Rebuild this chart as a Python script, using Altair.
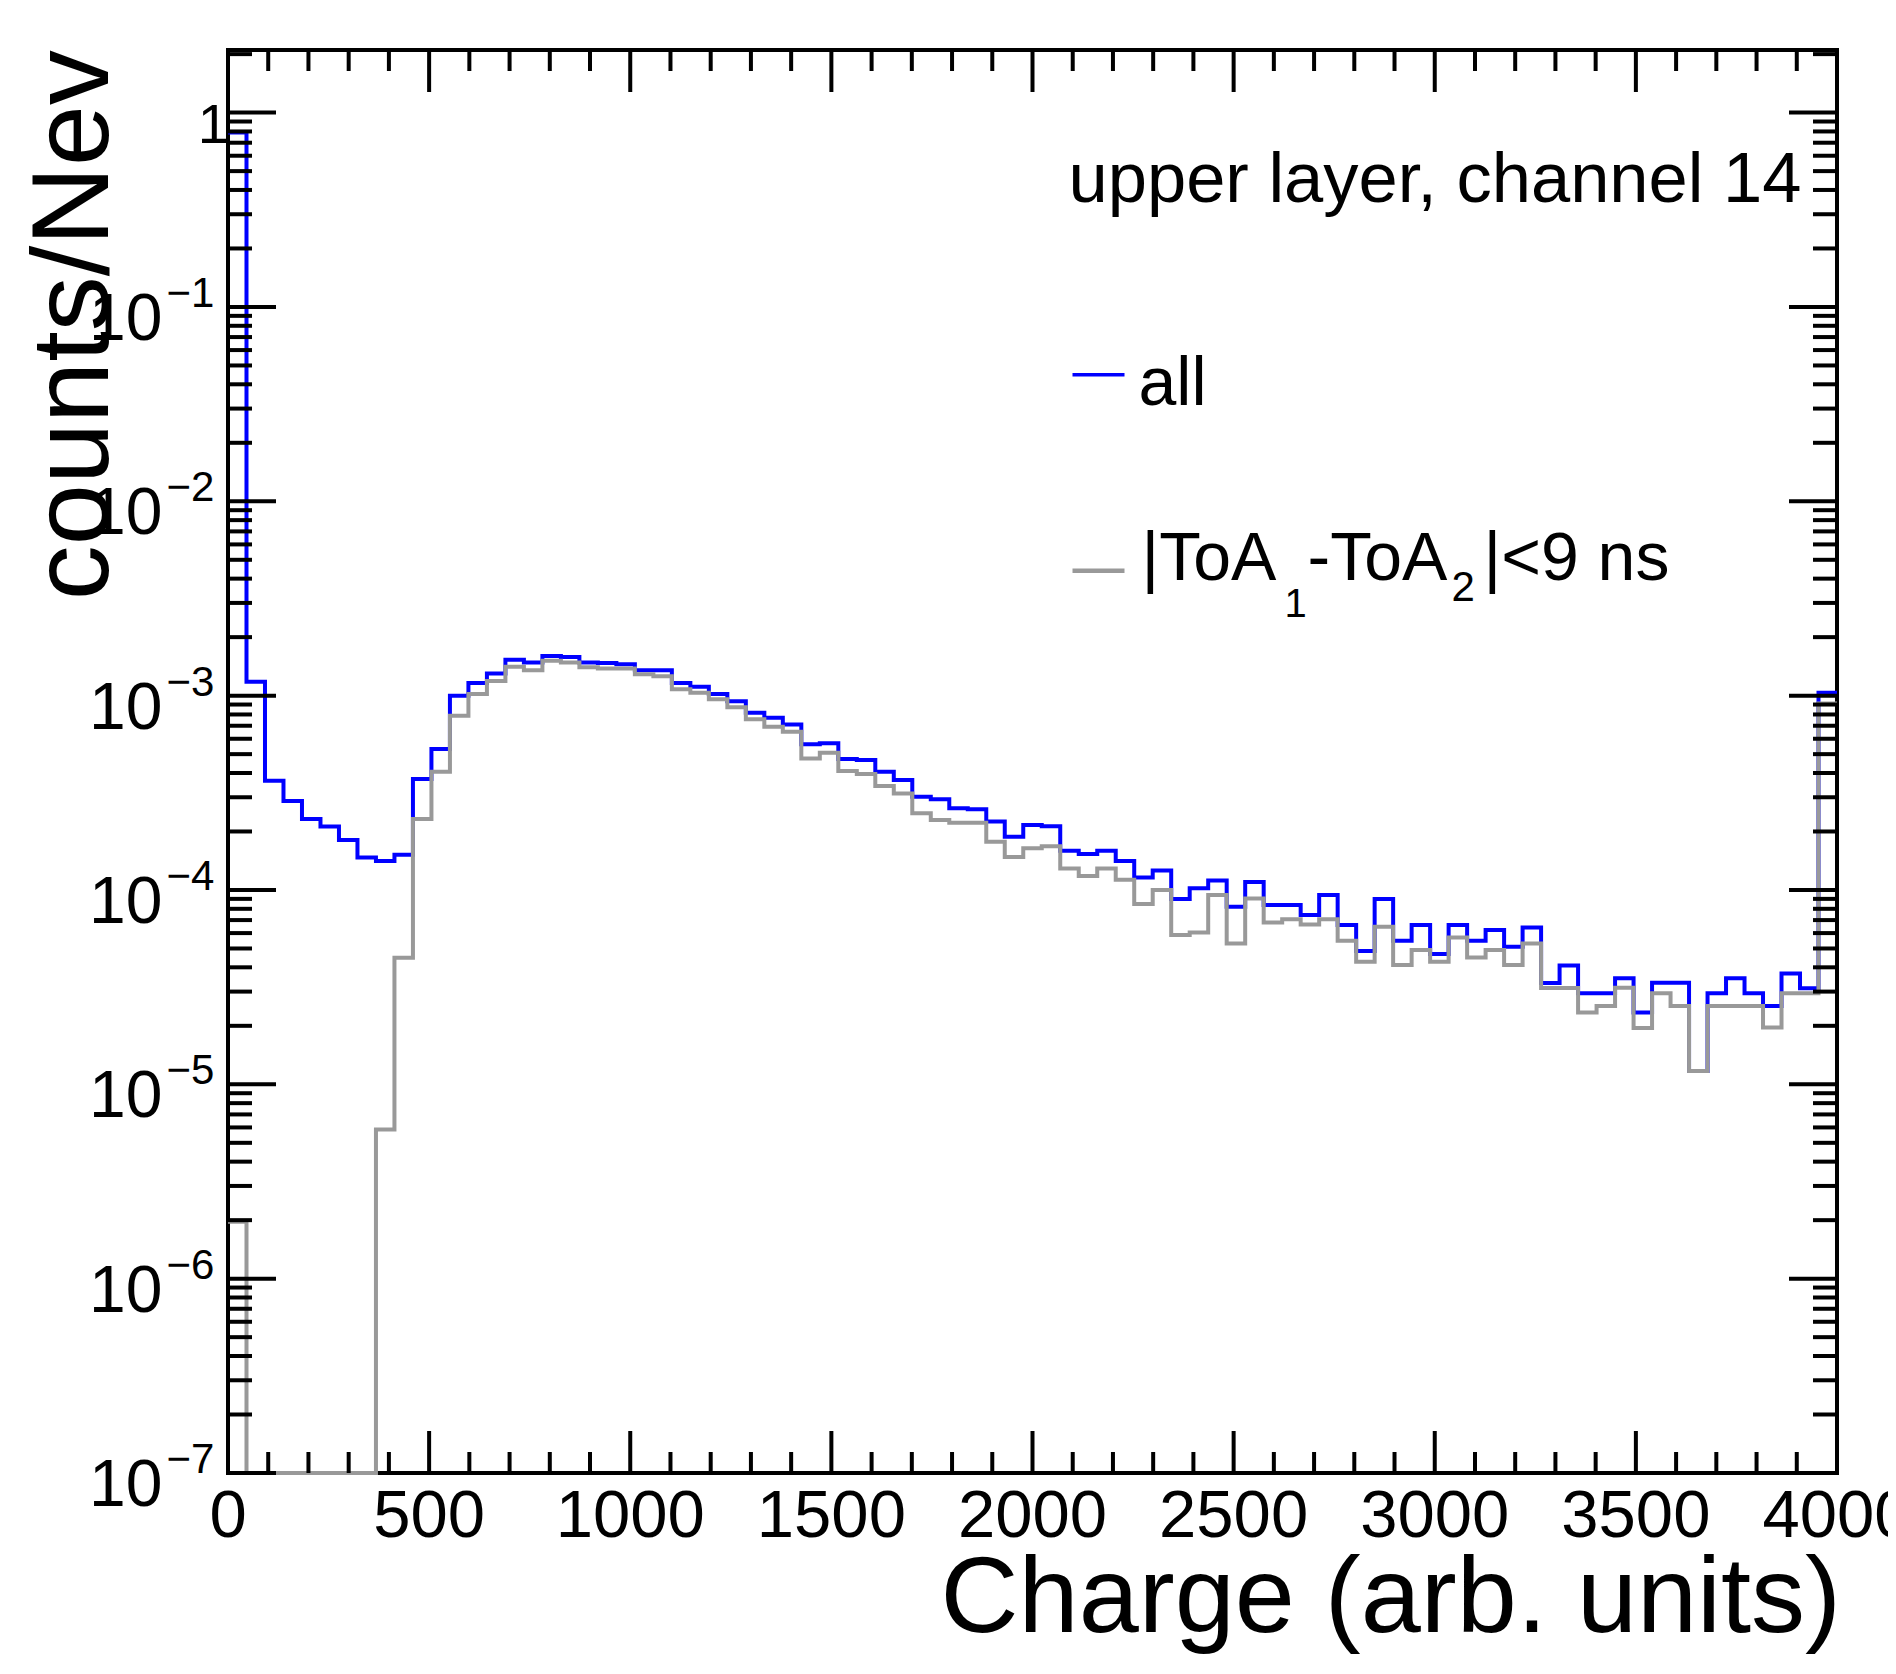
import altair as alt
import pandas as pd

# ---------------- data ----------------
x_min = 0
x_max = 4000
n_bins = 87

blue_all = [
    0.789, 1.18e-3, 3.65e-4, 2.87e-4, 2.32e-4, 2.12e-4, 1.81e-4, 1.47e-4, 1.41e-4, 1.52e-4,
    3.72e-4, 5.31e-4, 1.0e-3, 1.16e-3, 1.30e-3, 1.53e-3, 1.48e-3, 1.60e-3, 1.58e-3, 1.48e-3,
    1.47e-3, 1.45e-3, 1.35e-3, 1.35e-3, 1.16e-3, 1.11e-3, 1.02e-3, 9.37e-4, 8.16e-4, 7.69e-4,
    7.11e-4, 5.63e-4, 5.69e-4, 4.72e-4, 4.67e-4, 4.06e-4, 3.68e-4, 3.02e-4, 2.93e-4, 2.63e-4,
    2.60e-4, 2.25e-4, 1.88e-4, 2.16e-4, 2.13e-4, 1.59e-4, 1.53e-4, 1.59e-4, 1.41e-4, 1.16e-4,
    1.26e-4, 8.98e-5, 1.02e-4, 1.12e-4, 8.20e-5, 1.10e-4, 8.36e-5, 8.36e-5, 7.43e-5, 9.41e-5,
    6.60e-5, 4.86e-5, 8.98e-5, 5.48e-5, 6.60e-5, 4.68e-5, 6.60e-5, 5.48e-5, 6.22e-5, 5.10e-5,
    6.42e-5, 3.32e-5, 4.09e-5, 2.94e-5, 2.94e-5, 3.51e-5, 2.34e-5, 3.33e-5, 3.33e-5, 1.17e-5,
    2.94e-5, 3.51e-5, 2.94e-5, 2.53e-5, 3.72e-5, 3.12e-5, 1.035e-3,
]

gray_cut = [
    1.96e-6, 0, 0, 0, 0, 0, 0, 0, 5.86e-6, 4.48e-5,
    2.32e-4, 4.06e-4, 7.88e-4, 1.02e-3, 1.19e-3, 1.41e-3, 1.35e-3, 1.51e-3, 1.48e-3, 1.40e-3,
    1.38e-3, 1.38e-3, 1.29e-3, 1.26e-3, 1.08e-3, 1.035e-3, 9.57e-4, 8.71e-4, 7.55e-4, 6.92e-4,
    6.52e-4, 4.75e-4, 5.08e-4, 4.09e-4, 3.95e-4, 3.43e-4, 3.14e-4, 2.48e-4, 2.29e-4, 2.22e-4,
    2.22e-4, 1.77e-4, 1.48e-4, 1.64e-4, 1.68e-4, 1.29e-4, 1.18e-4, 1.29e-4, 1.13e-4, 8.46e-5,
    1.00e-4, 5.86e-5, 6.05e-5, 9.41e-5, 5.31e-5, 9.05e-5, 6.81e-5, 7.08e-5, 6.65e-5, 7.08e-5,
    5.48e-5, 4.27e-5, 6.47e-5, 4.11e-5, 4.91e-5, 4.27e-5, 5.70e-5, 4.50e-5, 4.91e-5, 4.11e-5,
    5.31e-5, 3.13e-5, 3.13e-5, 2.34e-5, 2.53e-5, 3.14e-5, 1.95e-5, 2.94e-5, 2.53e-5, 1.17e-5,
    2.53e-5, 2.53e-5, 2.53e-5, 1.96e-5, 2.94e-5, 2.94e-5, 9.12e-4,
]

x_tick_labels = ["0", "500", "1000", "1500", "2000", "2500", "3000", "3500", "4000"]
y_exponents = [0, -1, -2, -3, -4, -5, -6, -7]

y_min = 1e-7
y_max = 2.1

FONT = "Liberation Sans"
W = 1609
H = 1423
LW = 4


def step_frame(values):
    width = (x_max - x_min) / n_bins
    edges = [x_min + i * width for i in range(n_bins)] + [x_max]
    vals = list(values) + [values[-1]]
    return pd.DataFrame({"edge": edges, "value": [max(v, y_min) for v in vals]})


xs = alt.Scale(domain=[x_min, x_max], nice=False, zero=False)
ys = alt.Scale(type="log", domain=[y_min, y_max], nice=False)

blue_line = alt.Chart(step_frame(blue_all)).mark_line(
    interpolate="step-after", color="#0000ff", strokeWidth=LW
).encode(x=alt.X("edge:Q", scale=xs, axis=None), y=alt.Y("value:Q", scale=ys, axis=None))

gray_line = alt.Chart(step_frame(gray_cut)).mark_line(
    interpolate="step-after", color="#999999", strokeWidth=LW
).encode(x=alt.X("edge:Q", scale=xs, axis=None), y=alt.Y("value:Q", scale=ys, axis=None))

# ---------------- ticks ----------------
x_major = pd.DataFrame({"v": [float(i * 500) for i in range(9)]})
x_minor = pd.DataFrame({"v": [float(i * 100) for i in range(41) if i % 5 != 0]})
y_major = pd.DataFrame({"v": [10.0 ** e for e in y_exponents]})
y_minor_vals = []
for e in range(-7, 1):
    for m in range(2, 10):
        val = m * 10.0 ** e
        if val <= y_max:
            y_minor_vals.append(val)
y_minor = pd.DataFrame({"v": y_minor_vals})


def xtick(df, y0, y1):
    return alt.Chart(df).mark_rule(color="black", strokeWidth=LW).encode(
        x=alt.X("v:Q", scale=xs, axis=None), y=alt.value(y0), y2=alt.value(y1)
    )


def ytick(df, x0, x1):
    return alt.Chart(df).mark_rule(color="black", strokeWidth=LW).encode(
        y=alt.Y("v:Q", scale=ys, axis=None), x=alt.value(x0), x2=alt.value(x1)
    )


ticks = [
    xtick(x_major, H, H - 42), xtick(x_minor, H, H - 21),
    xtick(x_major, 0, 42), xtick(x_minor, 0, 21),
    ytick(y_major, 0, 48), ytick(y_minor, 0, 24),
    ytick(y_major, W, W - 48), ytick(y_minor, W, W - 24),
]

# ---------------- tick labels ----------------
xlab_df = pd.DataFrame({"v": [float(t) for t in x_tick_labels], "t": x_tick_labels})
x_labels = alt.Chart(xlab_df).mark_text(
    font=FONT, fontSize=67, align="center", baseline="alphabetic", color="black"
).encode(x=alt.X("v:Q", scale=xs, axis=None), y=alt.value(H + 64), text="t:N")

ylab_df = pd.DataFrame({
    "v": [10.0 ** e for e in y_exponents if e != 0],
    "exp": ["\u2212" + str(-e) for e in y_exponents if e != 0],
})
y_base = alt.Chart(ylab_df).mark_text(
    font=FONT, fontSize=66, align="right", baseline="alphabetic", dy=33, color="black"
).encode(y=alt.Y("v:Q", scale=ys, axis=None), x=alt.value(-65.5), text=alt.value("10"))
y_exp = alt.Chart(ylab_df).mark_text(
    font=FONT, fontSize=42, align="left", baseline="alphabetic", dy=0, color="black"
).encode(y=alt.Y("v:Q", scale=ys, axis=None), x=alt.value(-61.5), text="exp:N")
one_df = pd.DataFrame({"v": [1.0], "t": ["1"]})
y_one = alt.Chart(one_df).mark_text(
    font=FONT, fontSize=56, align="right", baseline="alphabetic", dy=30, color="black"
).encode(y=alt.Y("v:Q", scale=ys, axis=None), x=alt.value(1), text="t:N")


# ---------------- free text ----------------
def label(text, x, y, size, align="left", angle=0):
    df = pd.DataFrame({"t": [text]})
    kw = dict(font=FONT, fontSize=size, align=align, baseline="alphabetic", color="black")
    if angle:
        kw["angle"] = angle
    return alt.Chart(df).mark_text(**kw).encode(x=alt.value(x), y=alt.value(y), text="t:N")


x_title = label("Charge (arb. units)", 1613, 1582, 108, align="right")
y_title = label("counts/Nev", -120.5, 0, 110, align="right", angle=270)
info = label("upper layer, channel 14", 840.5, 151.7, 70.5)
leg_all = label("all", 910.5, 355, 68)
leg_g1 = label("|ToA", 913.5, 530, 68)
leg_s1 = label("1", 1056.5, 567, 40)
leg_g2 = label("-ToA", 1079.5, 530, 68)
leg_s2 = label("2", 1223.5, 551, 42)
leg_g3 = label("|<9 ns", 1255.5, 530, 68)

leg_df = pd.DataFrame({"k": ["all"]})
leg_blue = alt.Chart(leg_df).mark_rule(color="#0000ff", strokeWidth=3.5).encode(
    x=alt.value(844.5), x2=alt.value(896.5), y=alt.value(324.8)
)
leg_gray = alt.Chart(leg_df).mark_rule(color="#999999", strokeWidth=4.5).encode(
    x=alt.value(844.5), x2=alt.value(896.5), y=alt.value(520.7)
)

chart = alt.layer(
    blue_line, gray_line, *ticks,
    x_labels, y_base, y_exp, y_one,
    x_title, y_title, info,
    leg_blue, leg_gray, leg_all, leg_g1, leg_s1, leg_g2, leg_s2, leg_g3,
).properties(
    width=W, height=H,
    autosize=alt.AutoSizeParams(type="none"),
    padding={"left": 220, "top": 42, "right": 51, "bottom": 193},
    background="white",
).configure_view(stroke="black", strokeWidth=4)

chart.save("out.html", embed_options={"renderer": "svg", "actions": False})
